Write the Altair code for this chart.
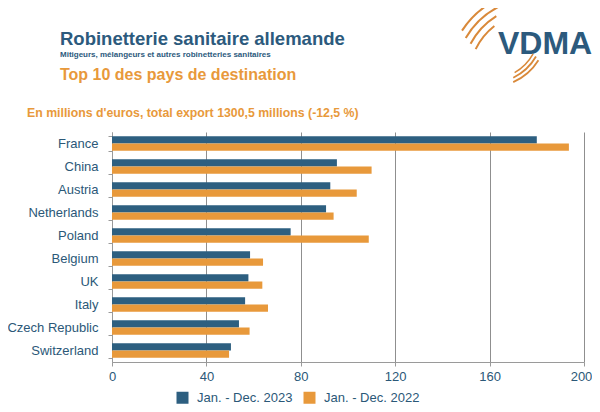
import altair as alt
import pandas as pd
import math

countries = ["France", "China", "Austria", "Netherlands", "Poland",
             "Belgium", "UK", "Italy", "Czech Republic", "Switzerland"]
v2023 = [180.0, 95.3, 92.5, 90.7, 75.7, 58.5, 57.8, 56.4, 53.8, 50.4]
v2022 = [193.6, 110.0, 103.7, 93.9, 108.8, 64.0, 63.7, 66.1, 58.3, 49.6]
series = ["Jan. - Dec. 2023", "Jan. - Dec. 2022"]
x_ticks = [0, 40, 80, 120, 160, 200]

title_txt = "Robinetterie sanitaire allemande"
sub_txt = "Mitigeurs, mélangeurs et autres robinetteries sanitaires"
top_txt = "Top 10 des pays de destination"
unit_txt = "En millions d'euros, total export 1300,5 millions (-12,5 %)"
logo_txt = "VDMA"

rows = []
for c, a, b in zip(countries, v2023, v2022):
    rows.append({"country": c, "period": series[0], "value": a})
    rows.append({"country": c, "period": series[1], "value": b})
df = pd.DataFrame(rows)

BLUE = "#2d5f80"
ORANGE = "#e8993b"
TXT = "#2b5878"
TITLE_BLUE = "#2c5a7d"
FONT = "Liberation Sans"

bars = alt.Chart(df).mark_bar().encode(
    y=alt.Y("country:N", sort=countries,
            scale=alt.Scale(paddingInner=0.36, paddingOuter=0.18),
            axis=alt.Axis(title=None, labelFontSize=13, labelColor=TXT, labelFont=FONT,
                          labelPadding=10, domainColor="#9a9a9a", tickColor="#9a9a9a",
                          tickBand="extent", tickSize=4, grid=False)),
    yOffset=alt.YOffset("period:N", sort=series),
    x=alt.X("value:Q", scale=alt.Scale(domain=[0, 200], nice=False),
            axis=alt.Axis(values=x_ticks, title=None, grid=True, gridColor="#8f8f8f",
                          gridWidth=1, domainColor="#9a9a9a", tickColor="#9a9a9a",
                          tickSize=4, labelPadding=4, labelFontSize=13, labelColor=TXT,
                          labelFont=FONT, labelFlush=False,
                          labelOffset=alt.expr("datum.value == 200 ? -3 : 0"))),
    color=alt.Color("period:N", sort=series,
                    scale=alt.Scale(domain=series, range=[BLUE, ORANGE]),
                    legend=alt.Legend(title=None, orient="none", legendX=64, legendY=259,
                                      direction="horizontal", columns=2, symbolType="square",
                                      symbolSize=144, symbolStrokeWidth=0, labelFontSize=13,
                                      labelColor=TXT, labelFont=FONT, columnPadding=10,
                                      labelOffset=8)),
)

one = pd.DataFrame({"k": [0]})


def txt(s, x, y, size, color, weight="bold"):
    return alt.Chart(one).mark_text(text=s, align="left", baseline="alphabetic",
                                    fontSize=size, fontWeight=weight, color=color,
                                    font=FONT).encode(x=alt.value(x), y=alt.value(y))


texts = [
    txt(title_txt, -52, -87, 18.5, TITLE_BLUE),
    txt(sub_txt, -52, -75, 8, TITLE_BLUE),
    txt(top_txt, -52, -52, 16, ORANGE),
    txt(unit_txt, -85, -15, 12.3, ORANGE),
    txt(logo_txt, 386, -78, 32, TITLE_BLUE),
]


def arc(cx, cy, r, t1, t2, w=2.0):
    return alt.Chart(one).mark_arc(color="#d9893a").encode(
        x=alt.value(cx), y=alt.value(cy),
        radius=alt.value(r), radius2=alt.value(r - w),
        theta=alt.value(math.radians(t1)), theta2=alt.value(math.radians(t2)))


arcs = [
    arc(423, -54, 88, 303, 338),
    arc(423, -54, 81, 300, 333),
    arc(423, -54, 74, 298, 328),
    arc(423, -54, 67, 296, 322),
    arc(378, -102, 58, 122, 156, 1.8),
    arc(378, -102, 54, 120, 154, 1.8),
    arc(378, -102, 50, 119, 150, 1.5),
]

chart = alt.layer(bars, *texts, *arcs).properties(
    width=472, height=230,
    autosize=alt.AutoSizeParams(type="none"),
    padding={"left": 104, "top": 124, "right": 8, "bottom": 42},
).configure_view(stroke=None)

chart.save("out.html", embed_options={"renderer": "svg", "actions": False})
